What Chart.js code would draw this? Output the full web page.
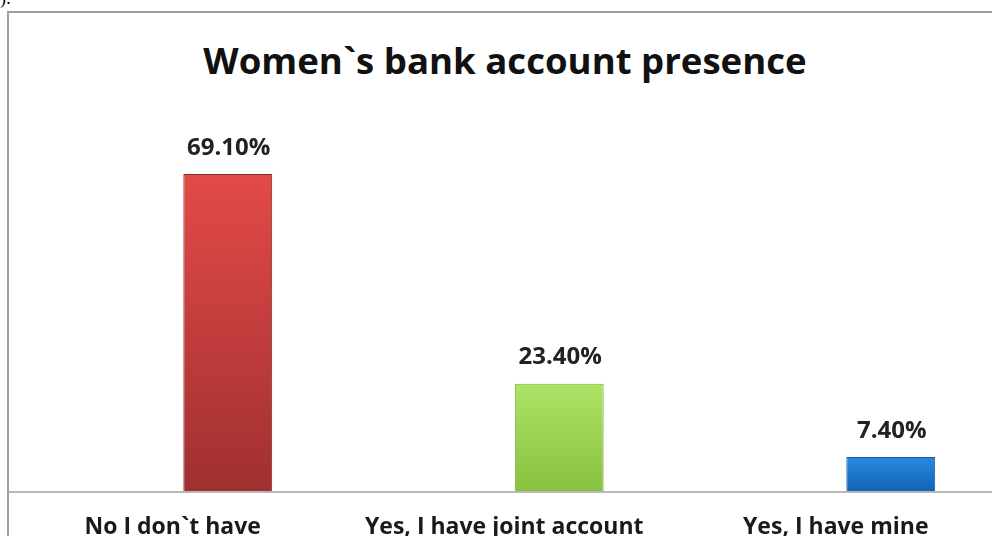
<!DOCTYPE html>
<html><head><meta charset="utf-8">
<script src="https://cdn.jsdelivr.net/npm/chart.js@4"></script>
<style>
html,body{margin:0;padding:0;background:#fff;overflow:hidden;width:992px;height:536px;}
#frag{position:absolute;left:0;top:-12px;font-family:"Liberation Serif",serif;font-size:18px;color:#000;}
#box{position:absolute;left:7px;top:11px;width:1100px;height:600px;border-left:2px solid #a0a0a0;border-top:2px solid #a0a0a0;}
#title{position:absolute;left:0;width:1010px;top:42px;text-align:center;font-family:"Open Sans",sans-serif;font-weight:700;font-size:36.6px;color:#111;line-height:1;}
#wrap{position:absolute;left:9px;top:13px;width:1090px;height:560px;}
</style></head><body>
<div id="frag">):</div>
<div id="box"></div>
<div id="title">Women`s bank account presence</div>
<div id="wrap"><canvas id="c"></canvas></div>
<script>
const categories = ["No I don`t have", "Yes, I have joint account", "Yes, I have mine"];
const values = [69.1, 23.4, 7.4];
const valueLabels = ["69.10%", "23.40%", "7.40%"];
const topColors = ["#e24a48", "#aee466", "#2a8ae0"];
const bottomColors = ["#a03030", "#88c040", "#1064b6"];
const borderColors = ["#8a2828", "#7aae38", "#0f5aa4"];

function grad(ctx, i){
  const ch = ctx.chart;
  const a = ch.chartArea;
  if(!a || !ch.scales || !ch.scales.y) return topColors[i];
  const top = ch.scales.y.getPixelForValue(values[i]);
  if(!isFinite(top) || !isFinite(a.bottom)) return topColors[i];
  const g = ch.ctx.createLinearGradient(0, top, 0, a.bottom);
  g.addColorStop(0, topColors[i]);
  g.addColorStop(1, bottomColors[i]);
  return g;
}

const valueLabelPlugin = {
  id:'valueLabels',
  afterDatasetsDraw(chart){
    const ctx = chart.ctx;
    const meta = chart.getDatasetMeta(0);
    ctx.save();
    ctx.font = "700 24px 'Open Sans', sans-serif";
    ctx.fillStyle = "#222";
    ctx.textAlign = "center";
    ctx.textBaseline = "middle";
    meta.data.forEach((el,i)=>{
      ctx.fillText(valueLabels[i], el.x + 1, el.y - 26);
    });
    ctx.restore();
  }
};
const axisLinePlugin = {
  id:'axisLine',
  afterDraw(chart){
    const ctx = chart.ctx;
    const y = chart.scales.y.getPixelForValue(0);
    ctx.save();
    ctx.strokeStyle = "#b8b8b8";
    ctx.lineWidth = 2;
    ctx.beginPath();
    ctx.moveTo(0, y+1);
    ctx.lineTo(chart.width, y+1);
    ctx.stroke();
    ctx.restore();
  }
};

new Chart(document.getElementById('c'), {
  type:'bar',
  data:{
    labels: categories,
    datasets:[{
      data: values,
      backgroundColor: (ctx)=>grad(ctx, ctx.dataIndex),
      borderColor: borderColors,
      borderWidth: 1,
      barPercentage: 0.268,
      categoryPercentage: 1
    }]
  },
  options:{
    responsive:true,
    maintainAspectRatio:false,
    animation:false,
    layout:{padding:{left:53,right:42.5,top:111,bottom:0}},
    plugins:{legend:{display:false},tooltip:{enabled:false}},
    scales:{
      x:{
        grid:{display:false, drawTicks:false},
        border:{display:false},
        ticks:{
          labelOffset:-55,
          padding:23,
          color:"#1a1a1a",
          font:{family:"'Open Sans', sans-serif", weight:'700', size:23}
        },
        afterFit(s){ s.height = 82; }
      },
      y:{display:false, min:0, max:80}
    }
  },
  plugins:[valueLabelPlugin, axisLinePlugin]
});
</script>
</body></html>
